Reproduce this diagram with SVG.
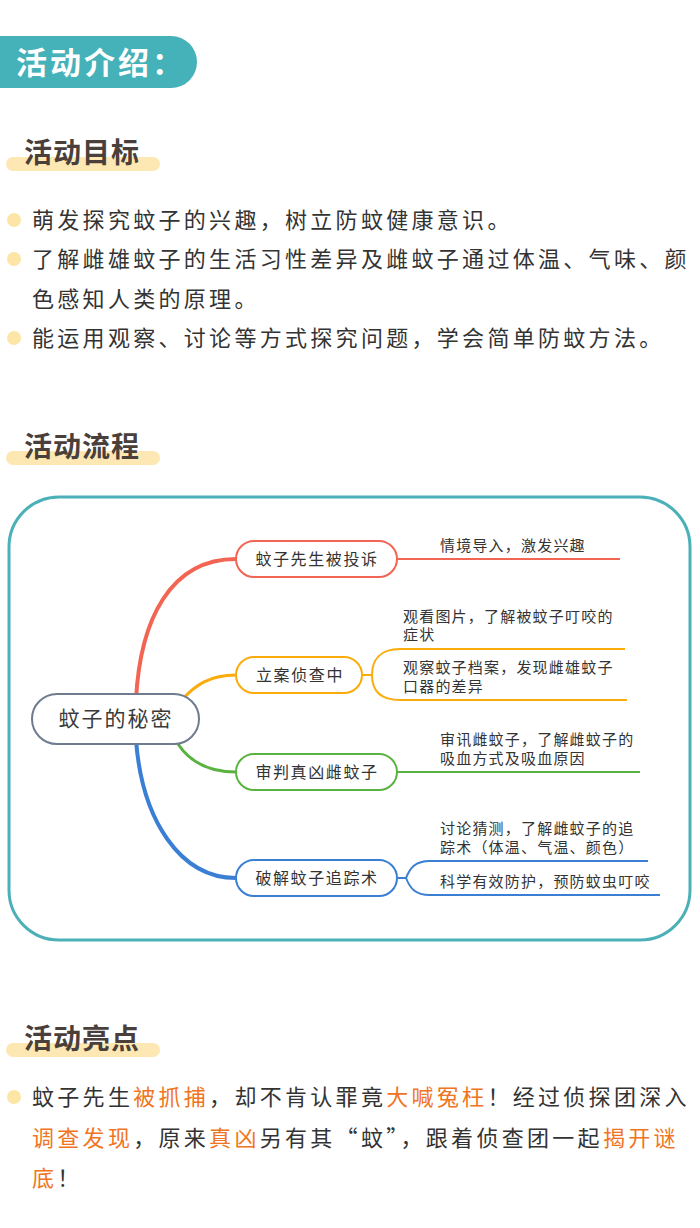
<svg xmlns="http://www.w3.org/2000/svg" width="700" height="1228" viewBox="0 0 700 1228">
<style>
.t{font-family:"Noto Sans CJK SC","Noto Sans",sans-serif;fill:#3a3a3a}
.h{font-family:"Noto Sans CJK SC",sans-serif;font-weight:bold;font-size:28px;letter-spacing:1px;fill:#4a3f3a}
.b{font-size:22px;letter-spacing:3.3px;fill:#333}
.n{font-size:16px;letter-spacing:1.6px;fill:#333}
.l{font-size:15px;letter-spacing:1.2px;fill:#333}
.o{fill:#f07522}
.bar{fill:#fde8b4}
.dot{fill:#fde5a6}
.node{fill:#fff;stroke-width:2}
.c{fill:none;stroke-width:2}
</style>
<rect width="700" height="1228" fill="#fff"/>
<g id="header">
<path d="M0 36 H171 A26 26 0 0 1 171 88 H0 Z" fill="#45b1b8"/>
<text x="16" y="74" class="t" style="font-size:31px;letter-spacing:3px;font-weight:bold;fill:#fff">活动介绍：</text>
</g>
<g id="goals-title"><rect x="6" y="157" width="154" height="14" rx="7" class="bar"/><text x="24" y="163" class="h">活动目标</text></g>
<g id="goals">
<circle cx="14" cy="220" r="7" class="dot"/><circle cx="14" cy="259" r="7" class="dot"/><circle cx="14" cy="338" r="7" class="dot"/>
<text x="32" y="228" class="t b">萌发探究蚊子的兴趣，树立防蚊健康意识。</text>
<text x="32" y="267" class="t b">了解雌雄蚊子的生活习性差异及雌蚊子通过体温、气味、颜</text>
<text x="32" y="307" class="t b">色感知人类的原理。</text>
<text x="32" y="346" class="t b">能运用观察、讨论等方式探究问题，学会简单防蚊方法。</text>
</g>
<g id="flow-title"><rect x="6" y="451" width="154" height="14" rx="7" class="bar"/><text x="24" y="457" class="h">活动流程</text></g>
<rect x="9" y="497" width="681" height="443" rx="50" fill="#fff" stroke="#4bb0b8" stroke-width="3"/>
<g id="connectors">
<path d="M136 700 C140 620 170 559 236 559" class="c" stroke="#f26552" style="stroke-width:4"/>
<path d="M182 700 C195 685 210 675 236 675" class="c" stroke="#fbab0a" style="stroke-width:3"/>
<path d="M178 744 C190 762 210 772 236 772" class="c" stroke="#5ab340" style="stroke-width:3"/>
<path d="M136 740 C142 820 180 878 236 878" class="c" stroke="#3b7fd5" style="stroke-width:4"/>
<path d="M397 559 H620" class="c" stroke="#f26552"/>
<path d="M362 675 H372 C372 660 380 649 400 649 H625 M372 675 C372 690 380 700 400 700 H627" class="c" stroke="#fbab0a"/>
<path d="M397 772 H640" class="c" stroke="#5ab340"/>
<path d="M397 878 H406 C410 868 415 861 430 861 H648 M406 878 C410 888 415 895 430 895 H660" class="c" stroke="#3b7fd5"/>
</g>
<g id="center"><rect x="32" y="694" width="167" height="50" rx="25" class="node" stroke="#6f7b8e"/><text x="116" y="726" text-anchor="middle" class="t" style="font-size:21px;letter-spacing:2px">蚊子的秘密</text></g>
<g id="n1"><rect x="236" y="541" width="161" height="36" rx="18" class="node" stroke="#f26552"/><text x="317" y="565" text-anchor="middle" class="t n">蚊子先生被投诉</text></g>
<g id="n2"><rect x="236" y="657" width="126" height="36" rx="18" class="node" stroke="#fbab0a"/><text x="300" y="681" text-anchor="middle" class="t n">立案侦查中</text></g>
<g id="n3"><rect x="236" y="754" width="161" height="36" rx="18" class="node" stroke="#5ab340"/><text x="317" y="778" text-anchor="middle" class="t n">审判真凶雌蚊子</text></g>
<g id="n4"><rect x="236" y="860" width="161" height="36" rx="18" class="node" stroke="#3b7fd5"/><text x="317" y="884" text-anchor="middle" class="t n">破解蚊子追踪术</text></g>
<g id="leaves">
<text x="440" y="551" class="t l">情境导入，激发兴趣</text>
<text x="403" y="622" class="t l">观看图片，了解被蚊子叮咬的</text>
<text x="403" y="640" class="t l">症状</text>
<text x="403" y="673" class="t l">观察蚊子档案，发现雌雄蚊子</text>
<text x="403" y="692" class="t l">口器的差异</text>
<text x="440" y="745" class="t l">审讯雌蚊子，了解雌蚊子的</text>
<text x="440" y="764" class="t l">吸血方式及吸血原因</text>
<text x="440" y="834" class="t l">讨论猜测，了解雌蚊子的追</text>
<text x="440" y="853" class="t l">踪术（体温、气温、颜色）</text>
<text x="440" y="887" class="t l">科学有效防护，预防蚊虫叮咬</text>
</g>
<g id="hl-title"><rect x="6" y="1043" width="154" height="14" rx="7" class="bar"/><text x="24" y="1049" class="h">活动亮点</text></g>
<g id="highlights">
<circle cx="14" cy="1097" r="7" class="dot"/>
<text x="32" y="1105" class="t b">蚊子先生<tspan class="o">被抓捕</tspan>，却不肯认罪竟<tspan class="o">大喊冤枉</tspan>！经过侦探团深入</text>
<text x="32" y="1146" class="t b"><tspan class="o">调查发现</tspan>，原来<tspan class="o">真凶</tspan>另有其“蚊”，跟着侦查团一起<tspan class="o">揭开谜</tspan></text>
<text x="32" y="1186" class="t b"><tspan class="o">底</tspan>！</text>
</g>
</svg>
